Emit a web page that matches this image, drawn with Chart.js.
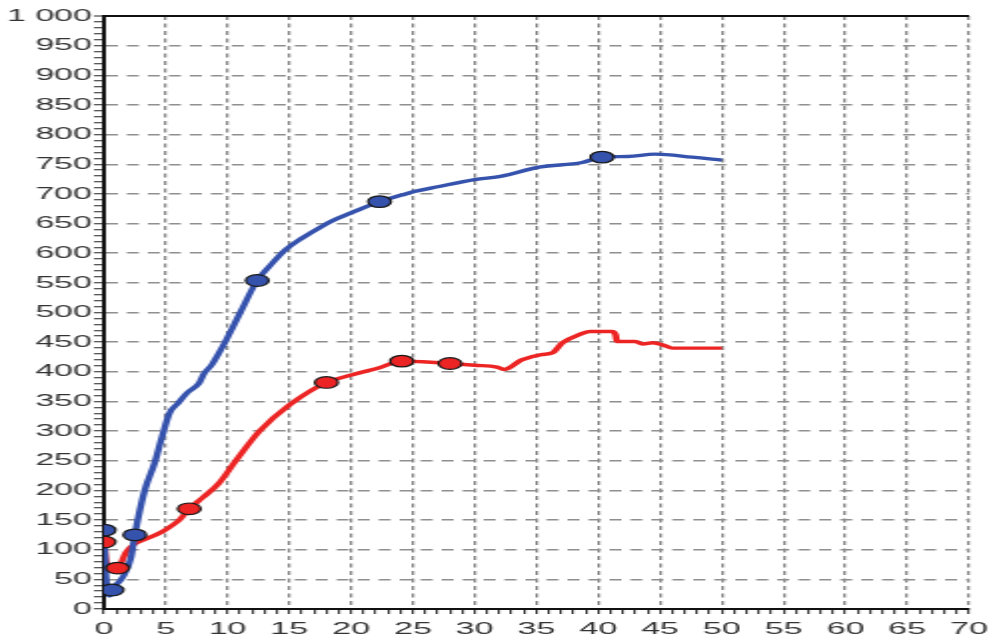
<!DOCTYPE html>
<html lang="en">
<head>
    <meta charset="UTF-8">
    <title>Chart</title>
    <script src="https://cdn.jsdelivr.net/npm/chart.js"></script>
    <style>
        html, body { margin: 0; padding: 0; background: #fff; overflow: hidden; }
        /* the reference picture is stretched about 2x horizontally */
        #wrap {
            width: 495px;
            height: 644px;
            transform: scaleX(1.998);
            transform-origin: 0 0;
        }
    </style>
</head>
<body>
<div id="wrap"><canvas id="chart"></canvas></div>

<script>
    // blue series (line)
    const blueX = [0, 0.15, 0.45, 0.65, 1.5, 2.2, 2.5, 3.3, 4.1, 4.7, 5.3, 6.0, 6.7, 7.7, 8.1, 8.7, 9.2, 9.8, 11.1, 12.4, 13.4, 14.7, 16, 17.6, 18.4, 20, 22.3, 24.1, 25.1, 27, 30, 32.2, 35.2, 38.7, 40.3, 42.4, 44.6, 47.6, 50];
    const blueY = [133, 60, 22, 32, 53, 87, 125, 200, 246, 290, 330, 347, 364, 381, 397, 411, 428, 450, 503, 554, 578, 606, 625, 645, 654, 668, 687, 698, 704, 712, 724, 730, 745, 753, 762, 763, 767, 762, 757];
    // blue markers
    const blueMarkX = [0, 0.65, 2.5, 12.4, 22.3, 40.3];
    const blueMarkY = [133, 32, 125, 554, 687, 762];

    // red series (line)
    const redX = [0, 0.2, 1.1, 1.8, 2.5, 3.5, 4.6, 5.3, 6.1, 6.9, 8.0, 9.3, 10.7, 12.6, 15, 18.0, 20.1, 22.3, 24.1, 25.8, 28.0, 30, 31.8, 32.4, 33.8, 35.4, 36.3, 37.1, 38.5, 39.3, 41.1, 41.4, 41.5, 43, 43.6, 44.4, 45.4, 46, 50];
    const redY = [113, 78, 69, 96, 110, 119, 129, 138, 150, 169, 188, 212, 251, 300, 344, 382, 395, 407, 418, 417, 414, 411, 408, 404, 420, 429, 432, 449, 463, 468, 468, 462, 451, 451, 447, 449, 444, 440, 440];
    // red markers
    const redMarkX = [0, 1.1, 6.9, 18.0, 24.1, 28.0];
    const redMarkY = [113, 69, 169, 382, 418, 414];

    const xMin = 0, xMax = 70, xMajor = 5;
    const yMin = 0, yMax = 1000, yMajor = 50;

    const BLUE = "#3552ad";
    const RED = "#ec2424";

    function pts(xs, ys) {
        return xs.map((x, i) => ({x: x, y: ys[i]}));
    }

    function fmt(v) {
        return String(v).replace(/\B(?=(\d{3})+(?!\d))/g, " ");
    }

    const FONT = {family: "'Liberation Sans', Arial, sans-serif", size: 17};

    new Chart(document.getElementById("chart"), {
        type: "line",
        data: {
            datasets: [
                {
                    data: pts(blueMarkX, blueMarkY), showLine: false, order: 0,
                    pointRadius: 5.8, pointStyle: "circle",
                    pointBackgroundColor: BLUE, pointBorderColor: "#1a1a1a", pointBorderWidth: 1.2
                },
                {
                    data: pts(redMarkX, redMarkY), showLine: false, order: 0,
                    pointRadius: 5.8, pointStyle: "circle",
                    pointBackgroundColor: RED, pointBorderColor: "#1a1a1a", pointBorderWidth: 1.2
                },
                {
                    data: pts(blueX, blueY), order: 1,
                    borderColor: BLUE, borderWidth: 3.4, pointRadius: 0,
                    cubicInterpolationMode: "monotone"
                },
                {
                    data: pts(redX, redY), order: 1,
                    borderColor: RED, borderWidth: 3.4, pointRadius: 0,
                    cubicInterpolationMode: "monotone"
                }
            ]
        },
        options: {
            responsive: true,
            maintainAspectRatio: false,
            animation: false,
            layout: {padding: {top: 16, right: 10, left: 0, bottom: 0}},
            plugins: {legend: {display: false}, tooltip: {enabled: false}},
            scales: {
                x: {
                    type: "linear",
                    min: xMin, max: xMax,
                    afterFit: s => { s.height = 35; s.paddingLeft = 0; s.paddingRight = 0; },
                    ticks: {
                        stepSize: 1, autoSkip: false, maxRotation: 0,
                        padding: 5, color: "#333", font: FONT,
                        callback: v => (v % xMajor === 0 ? String(v) : "")
                    },
                    grid: {
                        color: c => (c.tick && c.tick.value % xMajor === 0 ? "#858585" : "rgba(0,0,0,0)"),
                        lineWidth: 1.3,
                        tickColor: "#222", tickLength: 5, tickWidth: 1
                    },
                    border: {display: true, color: "#111", width: 2,
                        dash: c => (c.tick ? [4, 3.5] : [])}
                },
                y: {
                    min: yMin, max: yMax,
                    afterFit: s => { s.width = 52; s.paddingTop = 0; s.paddingBottom = 0; },
                    ticks: {
                        stepSize: 10, autoSkip: false,
                        padding: 1, color: "#333", font: FONT,
                        callback: v => (v % yMajor === 0 ? fmt(v) : "")
                    },
                    grid: {
                        color: c => {
                            if (!c.tick) return "rgba(0,0,0,0)";
                            if (c.tick.value === yMax) return "#111";
                            return c.tick.value % yMajor === 0 ? "#8f8f8f" : "rgba(0,0,0,0)";
                        },
                        lineWidth: c => (c.tick && c.tick.value === yMax ? 2 : 1.5),
                        tickColor: "#222", tickLength: 5, tickWidth: 1
                    },
                    border: {display: true, color: "#111", width: 2,
                        dash: c => (c.tick && c.tick.value !== yMax ? [6, 4.5] : [])}
                }
            }
        }
    });
</script>
</body>
</html>
